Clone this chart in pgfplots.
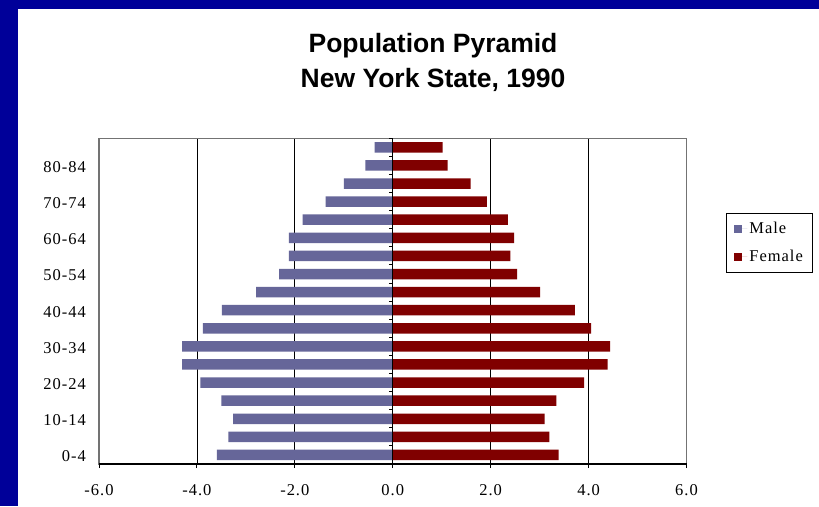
\documentclass[border=0pt]{standalone}
\usepackage{fontspec}
\setmainfont{Liberation Serif}
\newfontfamily\titlefont{Liberation Sans}
\newfontfamily\tickfont[LetterSpace=6]{Liberation Serif}
\usepackage{pgfplots}
\usepackage{pgfplotstable}
\pgfplotsset{compat=1.18}
\definecolor{navyb}{HTML}{000099}
\definecolor{male}{HTML}{666699}
\definecolor{female}{HTML}{800000}

\pgfplotstableread{
idx male female
0 -3.59 3.39
1 -3.36 3.20
2 -3.26 3.10
3 -3.50 3.34
4 -3.93 3.91
5 -4.30 4.39
6 -4.30 4.44
7 -3.88 4.05
8 -3.49 3.72
9 -2.79 3.01
10 -2.32 2.54
11 -2.12 2.40
12 -2.12 2.48
13 -1.84 2.35
14 -1.37 1.92
15 -1.00 1.59
16 -0.56 1.12
17 -0.37 1.02
}\pop

\begin{document}
\begin{tikzpicture}
\path[use as bounding box, fill=white] (0,0) rectangle (819pt,506pt);
\fill[navyb] (0,0) rectangle (18pt,506pt);
\fill[navyb] (0,497pt) rectangle (819pt,506pt);

\begin{axis}[
  at={(99pt,42pt)}, anchor=south west,
  width=587.5pt, height=325.7pt, scale only axis,
  xmin=-6, xmax=6, ymin=-0.5, ymax=17.5,
  xtick={-6,-4,...,6},
  xticklabels={-6.0,-4.0,-2.0,0.0,2.0,4.0,6.0},
  ytick={0,2,...,16},
  yticklabels={0-4,10-14,20-24,30-34,40-44,50-54,60-64,70-74,80-84},
  major tick length=0pt,
  xmajorgrids, major grid style={black, line width=0.8pt},
  axis line style={black!55, line width=1.2pt},
  tick label style={font=\tickfont\fontsize{16.5}{18}\selectfont},
  xticklabel style={anchor=base, yshift=-31pt, inner sep=0pt},
  yticklabel style={anchor=east, xshift=-13pt, inner sep=0pt, yshift=-1.5pt},
  xbar, bar width=10.5pt, bar shift=0pt,
  legend style={at={(1.0672,0.7707)}, anchor=north west, draw=black,
    line width=0.8pt, font=\tickfont\fontsize{16.5}{18}\selectfont,
    row sep=13pt, inner xsep=8pt, inner ysep=8pt,
    nodes={inner xsep=2pt, inner ysep=1pt}},
  legend cell align=left,
]
\addplot[fill=male, draw=none,
  legend image code/.code={\fill[male] (0pt,-4pt) rectangle (8pt,4pt); \path (0pt,0pt) -- (13pt,0pt);}]
  table[x=male, y=idx]{\pop};
\addplot[fill=female, draw=none,
  legend image code/.code={\fill[female] (0pt,-4pt) rectangle (8pt,4pt); \path (0pt,0pt) -- (13pt,0pt);}]
  table[x=female, y=idx]{\pop};
\legend{Male,Female}
\end{axis}

\begin{axis}[
  at={(99pt,42pt)}, anchor=south west,
  width=587.5pt, height=325.7pt, scale only axis,
  xmin=-6, xmax=6, ymin=0, ymax=1,
  axis x line=bottom, axis y line=none,
  xtick={-6,-4,...,6}, xticklabels={},
  tick align=outside, major tick length=4pt,
  axis line style={black, line width=1.2pt, -},
  tick style={black, line width=1pt},
]
\addplot[draw=none] coordinates {(0,0.5)};
\end{axis}

\begin{axis}[
  at={(392.75pt,42pt)}, anchor=south west,
  width=293.75pt, height=325.7pt, scale only axis,
  xmin=0, xmax=6, ymin=-0.5, ymax=17.5,
  axis y line=left, axis x line=none,
  ytick={-0.5,0.5,...,17.5}, yticklabels={},
  tick align=outside, major tick length=4pt,
  axis line style={black, line width=1pt, -},
  tick style={black, line width=1pt},
]
\addplot[draw=none] coordinates {(1,1)};
\end{axis}

\node[font=\titlefont\bfseries\fontsize{26.5}{32}\selectfont, anchor=base] at (433pt,453pt) {Population Pyramid};
\node[font=\titlefont\bfseries\fontsize{26.5}{32}\selectfont, anchor=base] at (433pt,418pt) {New York State, 1990};
\end{tikzpicture}
\end{document}
